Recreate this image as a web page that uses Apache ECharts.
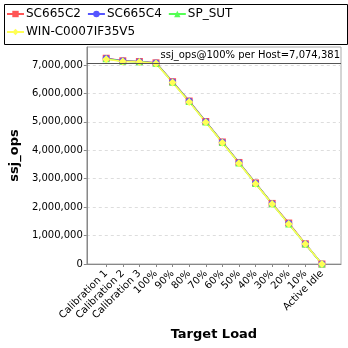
<!DOCTYPE html>
<html>
<head>
<meta charset="utf-8">
<script src="https://cdn.jsdelivr.net/npm/echarts@6/dist/echarts.min.js"></script>
<style>
html,body{margin:0;padding:0;background:#fff;}
#chart{width:348px;height:348px;}
</style>
</head>
<body>
<div id="chart"></div>
<script>
// Target load levels along the x axis
const categories = ['Calibration 1','Calibration 2','Calibration 3','100%','90%','80%','70%','60%','50%','40%','30%','20%','10%','Active Idle'];

// ssj_ops per host at each load level
const sc665c2 = [7235000, 7145000, 7120000, 7074381, 6410000, 5730000, 5010000, 4290000, 3570000, 2850000, 2130000, 1440000, 710000, 0];
const sc665c4 = [7225000, 7140000, 7115000, 7070000, 6400000, 5720000, 5000000, 4280000, 3560000, 2840000, 2120000, 1420000, 705000, 0];
const spSut   = [7215000, 7130000, 7110000, 7060000, 6390000, 5710000, 4990000, 4270000, 3550000, 2830000, 2115000, 1410000, 700000, 0];
const win     = [7200000, 7120000, 7100000, 7050000, 6380000, 5700000, 4985000, 4265000, 3545000, 2825000, 2110000, 1405000, 700000, 0];

// y axis ticks
const yTicks = [0, 1000000, 2000000, 3000000, 4000000, 5000000, 6000000, 7000000];

const peakLabel = 'ssj_ops@100% per Host=7,074,381';
const peakValue = 7074381;

const FONT = '"DejaVu Sans", sans-serif';
const idx = categories.map((_, i) => i);

function makeSeries(name, values, color, symbol, size) {
  return {
    name: name,
    type: 'line',
    data: values.map((v, i) => [i, v]),
    symbol: symbol,
    symbolSize: size,
    itemStyle: { color: color },
    lineStyle: { color: color, width: 1.5 },
    emphasis: { disabled: true },
    animation: false,
    z: 3
  };
}

const series = [
  makeSeries('SC665C2', sc665c2, '#FF5555', 'rect', 7),
  makeSeries('SC665C4', sc665c4, '#5555FF', 'circle', 7),
  makeSeries('SP_SUT', spSut, '#55FF55', 'triangle', 7),
  makeSeries('WIN-C0007IF35V5', win, '#FFFF55', 'diamond', 8)
];

// horizontal reference line at the 100% result
series.push({
  type: 'line',
  data: [],
  silent: true,
  animation: false,
  markLine: {
    silent: true,
    symbol: 'none',
    animation: false,
    lineStyle: { color: '#555555', width: 1, type: 'solid' },
    label: {
      show: true,
      position: 'insideEndTop',
      formatter: peakLabel,
      color: '#000',
      fontFamily: FONT,
      fontSize: 10,
      distance: [1, 2]
    },
    data: [{ yAxis: peakValue }]
  }
});

const chart = echarts.init(document.getElementById('chart'), null, { renderer: 'canvas' });
chart.setOption({
  backgroundColor: '#fff',
  animation: false,
  // frame around the legend, spanning the full width
  graphic: [{
    type: 'rect',
    left: 2,
    top: 2,
    shape: { width: 343, height: 40 },
    style: { fill: 'none', stroke: '#000', lineWidth: 1 },
    silent: true
  }],
  legend: {
    left: 2,
    top: 2,
    width: 329,
    padding: [6, 6, 7, 4],
    itemWidth: 17,
    itemHeight: 8,
    itemGap: 6,
    textStyle: { fontFamily: FONT, fontSize: 12, color: '#000', padding: [0, 0, 0, -3] },
    data: ['SC665C2', 'SC665C4', 'SP_SUT', 'WIN-C0007IF35V5']
  },
  grid: {
    left: 83,
    right: 7,
    top: 47,
    bottom: 84,
    show: true,
    borderColor: '#aaaaaa',
    borderWidth: 1
  },
  xAxis: {
    type: 'value',
    min: -1.17,
    max: 14.15,
    name: 'Target Load',
    nameLocation: 'middle',
    nameGap: 63,
    nameTextStyle: { fontFamily: FONT, fontSize: 13, fontWeight: 'bold', color: '#000' },
    axisLine: { onZero: false, lineStyle: { color: '#888888' } },
    axisTick: { show: true, length: 3, lineStyle: { color: '#888888' }, customValues: idx },
    splitLine: { show: false },
    axisLabel: {
      customValues: idx,
      rotate: 45,
      fontFamily: FONT,
      fontSize: 10,
      color: '#000',
      margin: 8,
      formatter: v => categories[Math.round(v)]
    }
  },
  yAxis: {
    type: 'value',
    min: 0,
    max: 7630000,
    name: 'ssj_ops',
    nameLocation: 'middle',
    nameGap: 59,
    nameTextStyle: { fontFamily: FONT, fontSize: 13, fontWeight: 'bold', color: '#000' },
    axisLine: { show: true, onZero: false, lineStyle: { color: '#888888' } },
    axisTick: { show: true, length: 3, lineStyle: { color: '#888888' }, customValues: yTicks },
    splitLine: { show: true, lineStyle: { color: '#dddddd', type: [3, 3] } },
    axisLabel: {
      customValues: yTicks,
      fontFamily: FONT,
      fontSize: 10,
      color: '#000',
      margin: 4,
      formatter: v => v.toLocaleString('en-US')
    }
  },
  series: series
});
</script>
</body>
</html>
